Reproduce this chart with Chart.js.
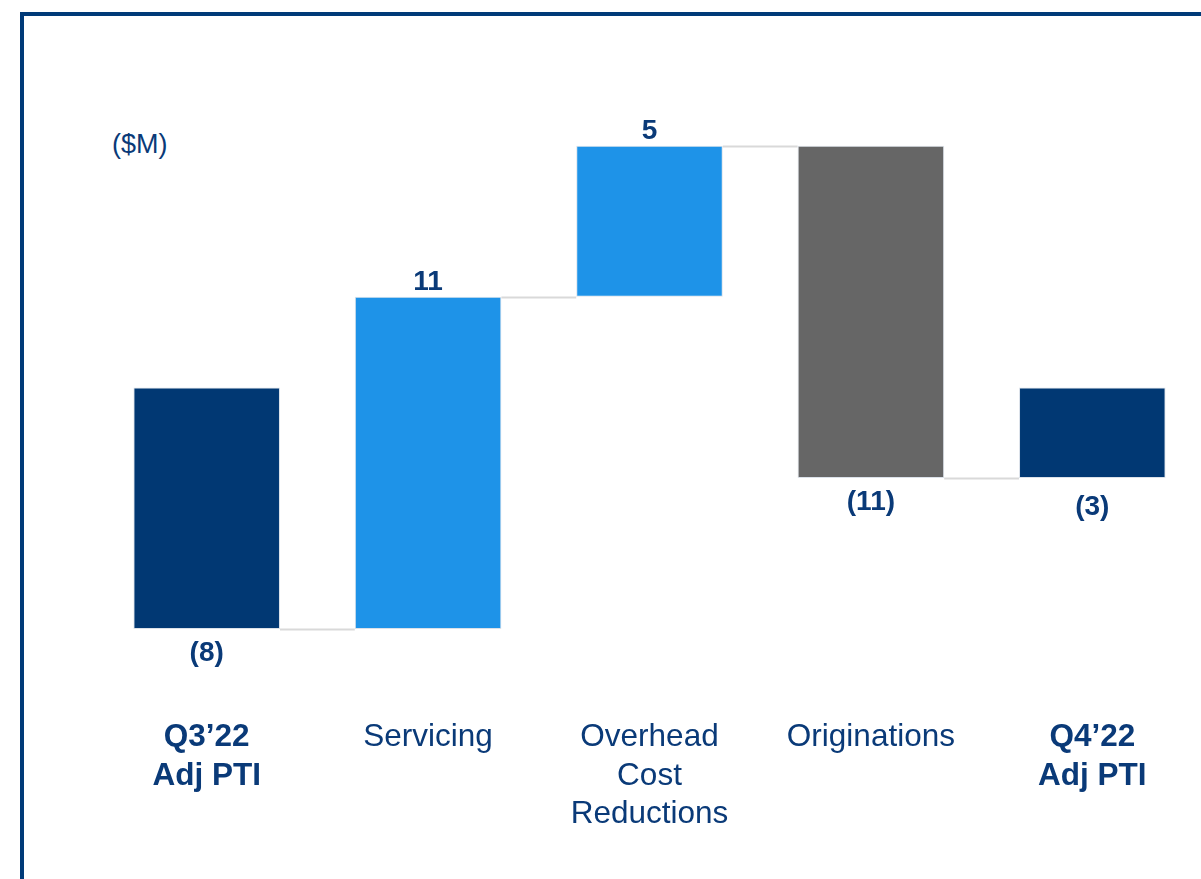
<!DOCTYPE html>
<html>
<head>
<meta charset="utf-8">
<script src="https://cdn.jsdelivr.net/npm/chart.js@4/dist/chart.umd.min.js"></script>
<style>
  html, body { margin: 0; padding: 0; background: #fff; overflow: hidden; }
  #wrap { position: relative; width: 1201px; height: 879px; overflow: hidden; }
  #frame {
    position: absolute; left: 20px; top: 12px; right: -10px; bottom: -10px;
    border-left: 4px solid #003a78; border-top: 4px solid #003a78;
  }
  #unit {
    position: absolute; left: 112px; top: 129px;
    font-family: "Liberation Sans", Arial, sans-serif; font-size: 27px; color: #0a3a78;
  }
  canvas { position: absolute; left: 0; top: 0; }
</style>
</head>
<body>
<div id="wrap">
  <div id="frame"></div>
  <div id="unit">($M)</div>
  <canvas id="chart" width="1203" height="879"></canvas>
</div>
<script>
// categories and values ($M)
const categories = [
  ['Q3\u201922', 'Adj PTI'],
  ['Servicing'],
  ['Overhead', 'Cost', 'Reductions'],
  ['Originations'],
  ['Q4\u201922', 'Adj PTI']
];
const startValue = -8;
const changes = [11, 5, -11];
const endValue = -3;
const valueLabels = ['(8)', '11', '5', '(11)', '(3)'];
const boldTicks = [true, false, false, false, true];

const NAVY = '#013873';
const BLUE = '#1e93e8';
const GREY = '#666666';
const TEXT = '#0a3a78';

// floating ranges for the waterfall
const ranges = [[0, startValue]];
const levels = [startValue];
let run = startValue;
changes.forEach(c => {
    ranges.push([run, run + c]);
    run += c;
    levels.push(run);
});
ranges.push([0, endValue]);

const colors = [NAVY].concat(changes.map(c => c >= 0 ? BLUE : GREY), [NAVY]);
const signs = [startValue].concat(changes, [endValue]);

// thin connectors between bars
const connectorPlugin = {
    id: 'connectors',
    beforeDatasetsDraw(chart) {
        const ctx = chart.ctx;
        const bars = chart.getDatasetMeta(0).data;
        const yScale = chart.scales.y;
        ctx.save();
        ctx.strokeStyle = '#d9d9d9';
        ctx.lineWidth = 2;
        for (let i = 0; i < bars.length - 1; i++) {
            const y = Math.round(yScale.getPixelForValue(levels[i])) + 0.5;
            ctx.beginPath();
            ctx.moveTo(bars[i].x + bars[i].width / 2, y);
            ctx.lineTo(bars[i + 1].x - bars[i + 1].width / 2, y);
            ctx.stroke();
        }
        ctx.restore();
    }
};

// value labels above / below bars
const labelPlugin = {
    id: 'valueLabels',
    afterDatasetsDraw(chart) {
        const ctx = chart.ctx;
        const bars = chart.getDatasetMeta(0).data;
        ctx.save();
        ctx.fillStyle = TEXT;
        ctx.font = 'bold 28px "Liberation Sans", Arial, sans-serif';
        ctx.textAlign = 'center';
        ctx.textBaseline = 'middle';
        bars.forEach((bar, i) => {
            const top = Math.min(bar.y, bar.base);
            const bottom = Math.max(bar.y, bar.base);
            if (signs[i] >= 0) {
                ctx.fillText(valueLabels[i], bar.x, top - 15);
            } else {
                ctx.fillText(valueLabels[i], bar.x, bottom + (i === 4 ? 29 : 24));
            }
        });
        ctx.restore();
    }
};

new Chart(document.getElementById('chart'), {
    type: 'bar',
    data: {
        labels: categories,
        datasets: [{
            data: ranges,
            backgroundColor: colors,
            borderColor: 'rgba(210,218,228,0.8)',
            borderWidth: 1,
            borderSkipped: false,
            barPercentage: 0.662,
            categoryPercentage: 1
        }]
    },
    options: {
        responsive: false,
        animation: false,
        layout: { padding: { top: 25, left: 96, right: 0, bottom: 0 } },
        plugins: {
            legend: { display: false },
            tooltip: { enabled: false }
        },
        scales: {
            x: {
                grid: { display: false, drawTicks: false },
                border: { display: false },
                afterFit: function(scale) { scale.height = 174.5; },
                ticks: {
                    padding: 14,
                    maxRotation: 0,
                    autoSkip: false,
                    color: TEXT,
                    font: function(ctx) {
                        const bold = boldTicks[ctx.index];
                        return {
                            family: '"Liberation Sans", Arial, sans-serif',
                            size: 31.5,
                            weight: bold ? 'bold' : 'normal',
                            lineHeight: 1.22
                        };
                    }
                }
            },
            y: {
                display: false,
                min: -10.5,
                max: 12
            }
        }
    },
    plugins: [connectorPlugin, labelPlugin]
});
</script>
</body>
</html>
